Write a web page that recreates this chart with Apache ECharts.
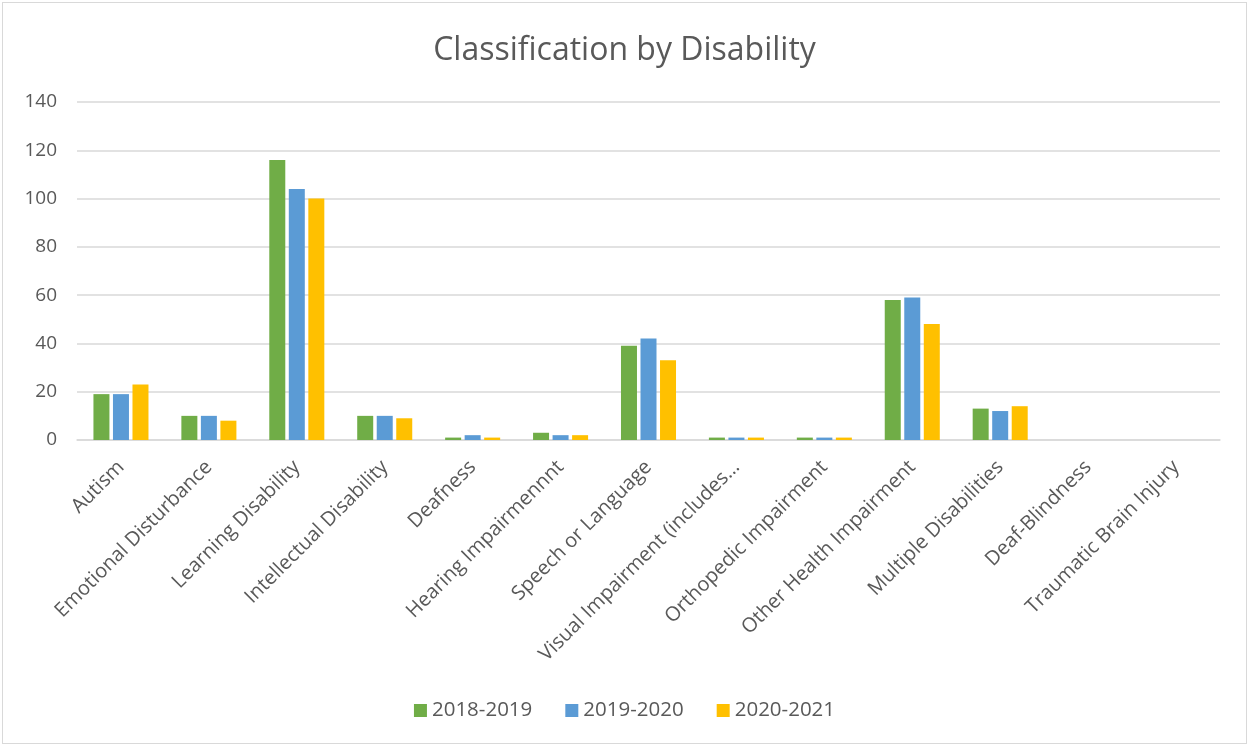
<!DOCTYPE html>
<html><head><meta charset="utf-8">
<script src="https://cdn.jsdelivr.net/npm/echarts@6/dist/echarts.min.js"></script>
<style>
html,body{margin:0;padding:0;background:#fff;}
#c{position:absolute;left:2px;top:2px;width:1245px;height:742px;border:1px solid #d9d9d9;box-sizing:border-box;}
</style></head><body>
<div id="c"></div>
<script>
const categories = ["Autism","Emotional Disturbance","Learning Disability","Intellectual Disability","Deafness","Hearing Impairmennnt","Speech or Language","Visual Impairment (includes…","Orthopedic Impairment","Other Health Impairment","Multiple Disabilities","Deaf-Blindness","Traumatic Brain Injury"];
const seriesNames = ["2018-2019","2019-2020","2020-2021"];
const s2018 = [19,10,116,10,1,3,39,1,1,58,13,0,0];
const s2019 = [19,10,104,10,2,2,42,1,1,59,12,0,0];
const s2020 = [23,8,100,9,1,2,33,1,1,48,14,0,0];
const yTicks = {min:0,max:140,interval:20};
const colors = ["#70ad47","#5b9bd5","#ffc000"];
const font = "Open Sans, Liberation Sans, sans-serif";
const chart = echarts.init(document.getElementById('c'));
const data = [s2018,s2019,s2020];
chart.setOption({
  animation:false,
  title:{text:"Classification by Disability",left:'center',top:27,textStyle:{fontFamily:font,fontSize:32,fontWeight:'normal',color:'#595959'}},
  legend:{bottom:17,left:'center',itemWidth:13,itemHeight:13,itemGap:33,icon:'rect',textStyle:{fontFamily:font,fontSize:20.5,color:'#595959'},data:seriesNames},
  grid:{left:74,right:26,top:99,bottom:303},
  xAxis:{type:'category',data:categories,axisLine:{lineStyle:{color:'#d9d9d9',width:1.5}},axisTick:{show:false},
    axisLabel:{rotate:45,interval:0,margin:24,fontFamily:font,fontSize:20,color:'#595959'}},
  yAxis:{type:'value',min:yTicks.min,max:yTicks.max,interval:yTicks.interval,axisLine:{show:false},axisTick:{show:false},
    splitLine:{lineStyle:{color:'#d9d9d9',width:1.5}},axisLabel:{margin:20,fontFamily:font,fontSize:19,color:'#595959'}},
  series:seriesNames.map((n,i)=>({name:n,type:'bar',data:data[i],barWidth:16,barGap:'22%',itemStyle:{color:colors[i]}}))
});
</script></body></html>
